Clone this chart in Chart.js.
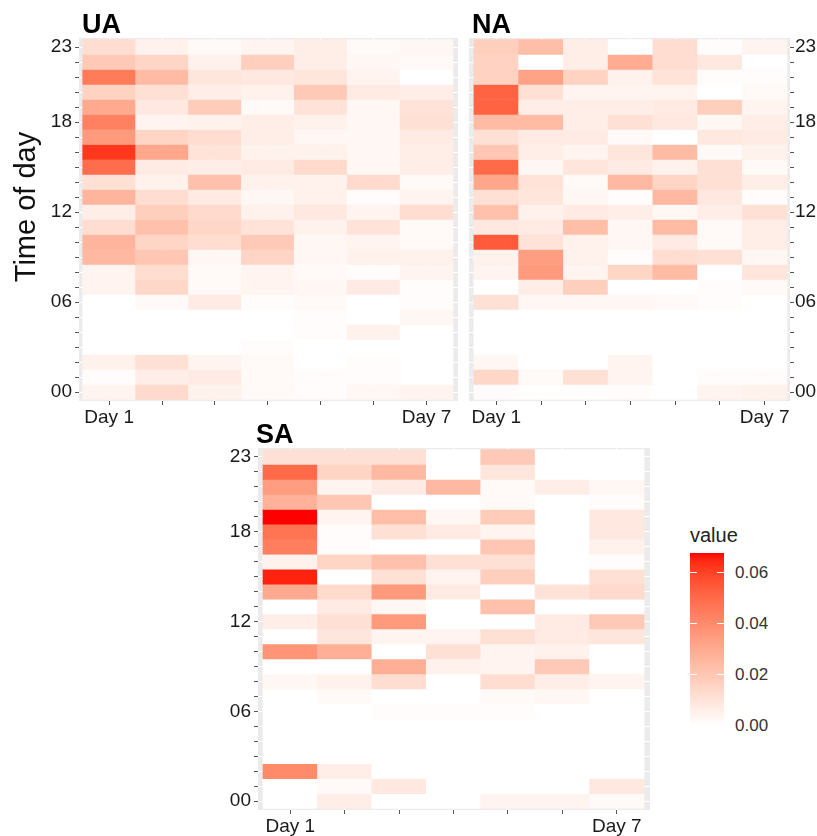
<!DOCTYPE html>
<html><head><meta charset="utf-8">
<script src="https://cdn.jsdelivr.net/npm/chart.js@4.4.1/dist/chart.umd.min.js"></script>
<style>
html,body{margin:0;padding:0;background:#fff;}
body{width:817px;height:836px;position:relative;overflow:hidden;font-family:"Liberation Sans",Arial,sans-serif;}
canvas{position:absolute;display:block;}
.lgt{position:absolute;color:#222;white-space:nowrap;}
</style></head><body>
<canvas id="ua" width="465" height="430" style="left:0px;top:0px"></canvas>
<canvas id="na" width="352" height="430" style="left:465px;top:0px"></canvas>
<canvas id="sa" width="460" height="416" style="left:200px;top:420px"></canvas>
<div id="legend"></div>
<script>
// ---------- data ----------
const days = [1, 2, 3, 4, 5, 6, 7];
const dayTickLabels = {1: 'Day 1', 7: 'Day 7'};
// rows listed from hour 23 (top) down to hour 0 (bottom)
const hours = [23, 22, 21, 20, 19, 18, 17, 16, 15, 14, 13, 12, 11, 10, 9, 8, 7, 6, 5, 4, 3, 2, 1, 0];
const hourTickLabels = {23: '23', 18: '18', 12: '12', 6: '06', 0: '00'};
const legendTitle = 'value';
const legendTicks = [0, 0.02, 0.04, 0.06];
const legendTickLabels = ['0.00', '0.02', '0.04', '0.06'];
const valueMin = 0;
const valueMax = 0.0675;

const uaValues = [
  [0.012, 0.005, 0.002, 0.004, 0.006, 0.002, 0.003],
  [0.019, 0.015, 0.005, 0.017, 0.006, 0.003, 0.002],
  [0.045, 0.024, 0.009, 0.008, 0.009, 0.004, 0.000],
  [0.016, 0.011, 0.006, 0.005, 0.019, 0.007, 0.006],
  [0.030, 0.008, 0.018, 0.002, 0.010, 0.003, 0.010],
  [0.043, 0.004, 0.005, 0.006, 0.005, 0.003, 0.011],
  [0.035, 0.015, 0.012, 0.006, 0.003, 0.003, 0.007],
  [0.062, 0.031, 0.010, 0.005, 0.005, 0.003, 0.006],
  [0.049, 0.007, 0.006, 0.007, 0.013, 0.003, 0.006],
  [0.011, 0.005, 0.022, 0.005, 0.005, 0.013, 0.002],
  [0.026, 0.012, 0.007, 0.003, 0.005, 0.001, 0.004],
  [0.006, 0.017, 0.013, 0.005, 0.008, 0.004, 0.012],
  [0.012, 0.022, 0.014, 0.010, 0.005, 0.010, 0.002],
  [0.026, 0.015, 0.012, 0.019, 0.003, 0.004, 0.002],
  [0.025, 0.020, 0.003, 0.015, 0.003, 0.005, 0.005],
  [0.004, 0.012, 0.002, 0.004, 0.002, 0.001, 0.004],
  [0.004, 0.014, 0.002, 0.004, 0.003, 0.007, 0.001],
  [0.000, 0.002, 0.007, 0.001, 0.002, 0.000, 0.001],
  [0.000, 0.000, 0.000, 0.000, 0.001, 0.000, 0.003],
  [0.000, 0.000, 0.000, 0.000, 0.001, 0.005, 0.000],
  [0.000, 0.000, 0.000, 0.001, 0.000, 0.000, 0.000],
  [0.005, 0.011, 0.004, 0.002, 0.000, 0.001, 0.000],
  [0.001, 0.006, 0.007, 0.002, 0.001, 0.001, 0.000],
  [0.004, 0.013, 0.005, 0.002, 0.001, 0.003, 0.004]
];

const naValues = [
  [0.017, 0.023, 0.006, 0.000, 0.012, 0.001, 0.004],
  [0.016, 0.000, 0.006, 0.029, 0.012, 0.008, 0.000],
  [0.016, 0.032, 0.016, 0.005, 0.010, 0.001, 0.001],
  [0.052, 0.011, 0.004, 0.004, 0.004, 0.000, 0.002],
  [0.052, 0.006, 0.006, 0.006, 0.007, 0.017, 0.004],
  [0.024, 0.024, 0.006, 0.011, 0.008, 0.003, 0.006],
  [0.011, 0.007, 0.007, 0.002, 0.000, 0.008, 0.007],
  [0.020, 0.006, 0.004, 0.009, 0.024, 0.002, 0.005],
  [0.050, 0.003, 0.009, 0.007, 0.005, 0.011, 0.002],
  [0.031, 0.010, 0.002, 0.025, 0.015, 0.011, 0.006],
  [0.011, 0.009, 0.003, 0.001, 0.025, 0.008, 0.001],
  [0.022, 0.005, 0.007, 0.006, 0.003, 0.006, 0.011],
  [0.008, 0.007, 0.023, 0.003, 0.024, 0.002, 0.006],
  [0.054, 0.010, 0.005, 0.003, 0.007, 0.002, 0.006],
  [0.005, 0.034, 0.005, 0.001, 0.012, 0.011, 0.003],
  [0.004, 0.035, 0.004, 0.015, 0.024, 0.000, 0.009],
  [0.000, 0.006, 0.017, 0.000, 0.000, 0.001, 0.002],
  [0.011, 0.003, 0.003, 0.003, 0.002, 0.001, 0.000],
  [0.000, 0.000, 0.000, 0.000, 0.000, 0.000, 0.000],
  [0.000, 0.000, 0.000, 0.000, 0.000, 0.000, 0.000],
  [0.000, 0.000, 0.000, 0.000, 0.000, 0.000, 0.000],
  [0.003, 0.000, 0.000, 0.004, 0.000, 0.000, 0.000],
  [0.014, 0.002, 0.011, 0.004, 0.000, 0.001, 0.001],
  [0.001, 0.0005, 0.0005, 0.001, 0.000, 0.004, 0.005]
];

const saValues = [
  [0.011, 0.011, 0.011, 0.000, 0.019, 0.000, 0.000],
  [0.050, 0.015, 0.025, 0.000, 0.009, 0.000, 0.000],
  [0.034, 0.004, 0.007, 0.025, 0.002, 0.006, 0.003],
  [0.027, 0.020, 0.000, 0.000, 0.002, 0.000, 0.001],
  [0.0675, 0.004, 0.023, 0.003, 0.018, 0.000, 0.008],
  [0.047, 0.001, 0.011, 0.007, 0.004, 0.000, 0.008],
  [0.044, 0.001, 0.000, 0.000, 0.020, 0.000, 0.005],
  [0.005, 0.015, 0.022, 0.011, 0.011, 0.000, 0.001],
  [0.065, 0.000, 0.011, 0.004, 0.017, 0.000, 0.011],
  [0.030, 0.013, 0.035, 0.007, 0.000, 0.010, 0.013],
  [0.000, 0.007, 0.003, 0.000, 0.022, 0.000, 0.000],
  [0.006, 0.011, 0.035, 0.000, 0.000, 0.007, 0.019],
  [0.000, 0.009, 0.004, 0.004, 0.011, 0.007, 0.009],
  [0.037, 0.028, 0.000, 0.011, 0.004, 0.005, 0.000],
  [0.000, 0.000, 0.028, 0.005, 0.004, 0.019, 0.000],
  [0.003, 0.005, 0.012, 0.000, 0.012, 0.006, 0.004],
  [0.000, 0.002, 0.000, 0.000, 0.002, 0.003, 0.000],
  [0.000, 0.000, 0.001, 0.001, 0.001, 0.000, 0.000],
  [0.000, 0.000, 0.000, 0.000, 0.000, 0.000, 0.000],
  [0.000, 0.000, 0.000, 0.000, 0.000, 0.000, 0.000],
  [0.000, 0.000, 0.000, 0.000, 0.000, 0.000, 0.000],
  [0.040, 0.006, 0.000, 0.000, 0.000, 0.000, 0.000],
  [0.000, 0.002, 0.008, 0.000, 0.000, 0.000, 0.008],
  [0.000, 0.006, 0.000, 0.000, 0.004, 0.004, 0.002]
];

// ---------- colour scale (white -> red, interpolated in CIELAB like ggplot) ----------
const FONT = '"Liberation Sans", Arial, sans-serif';
const LAB_LOW = [100, 0, 0];
const LAB_HIGH = [53.2408, 80.0925, 67.2032];
function labToRgb(L, a, b) {
  const fy = (L + 16) / 116, fx = fy + a / 500, fz = fy - b / 200;
  const finv = t => (t * t * t > 0.008856 ? t * t * t : (t - 16 / 116) / 7.787);
  const X = 0.95047 * finv(fx), Y = finv(fy), Z = 1.08883 * finv(fz);
  let r = 3.2406 * X - 1.5372 * Y - 0.4986 * Z;
  let g = -0.9689 * X + 1.8758 * Y + 0.0415 * Z;
  let bb = 0.0557 * X - 0.2040 * Y + 1.0570 * Z;
  const gam = c => {
    c = Math.max(0, Math.min(1, c));
    return c <= 0.0031308 ? 12.92 * c : 1.055 * Math.pow(c, 1 / 2.4) - 0.055;
  };
  return [r, g, bb].map(c => Math.round(gam(c) * 255));
}
function colorOf(v) {
  let t = (v - valueMin) / (valueMax - valueMin);
  t = Math.max(0, Math.min(1, t));
  const L = LAB_LOW[0] + (LAB_HIGH[0] - LAB_LOW[0]) * t;
  const a = LAB_LOW[1] + (LAB_HIGH[1] - LAB_LOW[1]) * t;
  const b = LAB_LOW[2] + (LAB_HIGH[2] - LAB_LOW[2]) * t;
  const [R, G, B] = labToRgb(L, a, b);
  return `rgb(${R},${G},${B})`;
}

// ---------- plugins ----------
const panelBg = {
  id: 'panelBg',
  beforeDraw(chart) {
    const {ctx, chartArea: ca} = chart;
    ctx.save();
    ctx.fillStyle = '#EBEBEB';
    ctx.fillRect(ca.left, ca.top, ca.right - ca.left, ca.bottom - ca.top);
    ctx.restore();
  }
};
const panelText = {
  id: 'panelText',
  afterDraw(chart, args, opts) {
    const ctx = chart.ctx;
    ctx.save();
    ctx.fillStyle = '#000';
    ctx.font = 'bold 27px ' + FONT;
    ctx.textAlign = 'left';
    ctx.textBaseline = 'alphabetic';
    ctx.fillText(opts.title, opts.titleX, opts.titleY);
    if (opts.yTitle) {
      ctx.translate(opts.yTitleX, opts.yTitleY);
      ctx.rotate(-Math.PI / 2);
      ctx.textAlign = 'center';
      ctx.font = '29px ' + FONT;
      ctx.fillStyle = '#111';
      ctx.fillText(opts.yTitle, 0, 0);
    }
    ctx.restore();
  }
};

function makeHeatmap(id, values, cfg) {
  const datasets = hours.map((h, r) => ({
    data: days.map(d => ({x: d, y: [h - 0.5, h + 0.5]})),
    backgroundColor: values[r].map(colorOf),
    borderWidth: 0,
    grouped: false,
    barPercentage: 1,
    categoryPercentage: 1
  }));
  return new Chart(document.getElementById(id), {
    type: 'bar',
    data: {datasets},
    options: {
      responsive: false,
      animation: false,
      events: [],
      layout: {padding: cfg.padding},
      plugins: {
        legend: {display: false},
        tooltip: {enabled: false},
        title: {display: false},
        panelText: cfg.text
      },
      scales: {
        x: {
          type: 'linear', min: cfg.xMin, max: cfg.xMax, offset: false,
          grid: {offset: false, color: '#FFFFFF', lineWidth: 1, drawTicks: true, tickLength: 4, tickColor: '#555555', tickWidth: 1},
          border: {display: false},
          ticks: {autoSkip: false, maxRotation: 0, minRotation: 0, padding: 1, color: '#1a1a1a', font: {family: FONT, size: 19},
                  callback: v => dayTickLabels[v] || ''},
          afterBuildTicks: s => { s.ticks = days.map(d => ({value: d})); },
          afterFit: s => { s.height = cfg.xHeight; }
        },
        y: {
          type: 'linear', position: cfg.yPos, min: -0.6, max: 23.6, offset: false,
          grid: {offset: false, color: '#FFFFFF', lineWidth: 1, drawTicks: true, tickLength: 4, tickColor: '#555555', tickWidth: 1},
          border: {display: false},
          ticks: {autoSkip: false, padding: cfg.yPad, color: '#1a1a1a', font: {family: FONT, size: 19},
                  callback: v => (hourTickLabels[v] !== undefined ? hourTickLabels[v] : '')},
          afterBuildTicks: s => { s.ticks = hours.slice().reverse().map(h => ({value: h})); },
          afterFit: s => { s.width = cfg.yWidth; }
        }
      }
    },
    plugins: [panelBg, panelText]
  });
}

makeHeatmap('ua', uaValues, {
  padding: {left: 0, right: 7, top: 38, bottom: 0},
  xMin: 0.43, xMax: 7.595, xHeight: 29, yPos: 'left', yWidth: 79, yPad: 3,
  text: {title: 'UA', titleX: 82, titleY: 33, yTitle: 'Time of day', yTitleX: 35, yTitleY: 207}
});
makeHeatmap('na', naValues, {
  padding: {left: 4, right: 0, top: 38, bottom: 0},
  xMin: 0.39, xMax: 7.567, xHeight: 29, yPos: 'right', yWidth: 27, yPad: 1,
  text: {title: 'NA', titleX: 7, titleY: 33}
});
makeHeatmap('sa', saValues, {
  padding: {left: 0, right: 10, top: 28, bottom: 0},
  xMin: 0.408, xMax: 7.61, xHeight: 26, yPos: 'left', yWidth: 58, yPad: 3,
  text: {title: 'SA', titleX: 56, titleY: 23}
});

// ---------- colour bar legend ----------
(function () {
  const lg = document.getElementById('legend');
  const barLeft = 690, barTop = 553, barW = 34, barBottom = 725;
  const pxPerUnit = (barBottom - barTop) / (valueMax - valueMin);
  const yOf = v => barBottom - (v - valueMin) * pxPerUnit;
  const title = document.createElement('div');
  title.className = 'lgt';
  title.textContent = legendTitle;
  title.style.cssText = `left:${barLeft}px;top:525px;font-size:20px;line-height:20px;color:#222;`;
  lg.appendChild(title);
  const stops = [];
  for (let i = 0; i <= 40; i++) {
    const v = valueMin + (valueMax - valueMin) * i / 40;
    stops.push(`${colorOf(v)} ${(i / 40 * 100).toFixed(2)}%`);
  }
  const bar = document.createElement('div');
  bar.style.cssText = `position:absolute;left:${barLeft}px;top:${barTop}px;width:${barW}px;height:${barBottom - barTop}px;background:linear-gradient(to top, ${stops.join(',')});`;
  lg.appendChild(bar);
  legendTicks.forEach((v, i) => {
    const y = yOf(v);
    [barLeft, barLeft + barW - 7].forEach(x => {
      const t = document.createElement('div');
      t.style.cssText = `position:absolute;left:${x}px;top:${(y - 0.5).toFixed(1)}px;width:7px;height:1px;background:#fff;`;
      lg.appendChild(t);
    });
    const lab = document.createElement('div');
    lab.className = 'lgt';
    lab.textContent = legendTickLabels[i];
    lab.style.cssText = `left:735px;top:${(y - 8.5).toFixed(1)}px;font-size:17px;line-height:17px;color:#333;`;
    lg.appendChild(lab);
  });
})();
</script>
</body></html>
